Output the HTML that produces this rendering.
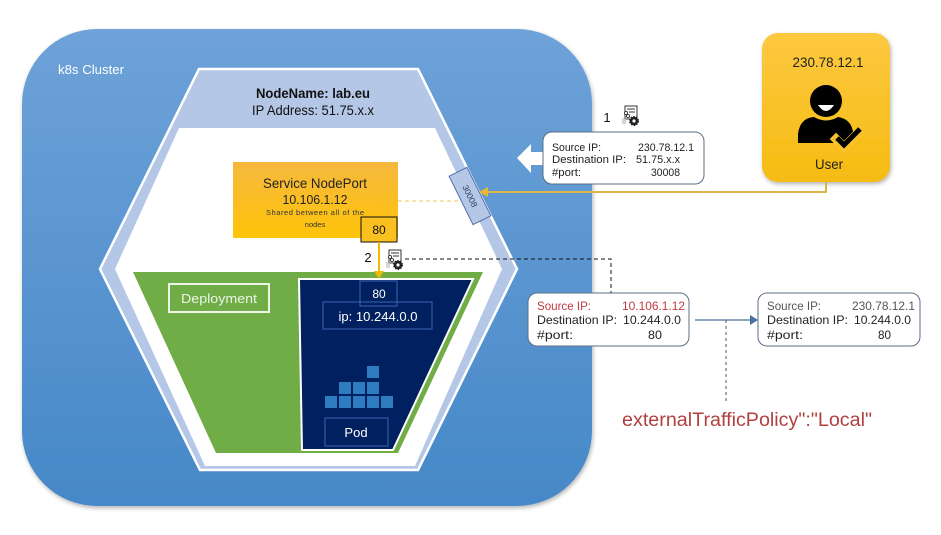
<!DOCTYPE html>
<html>
<head>
<meta charset="utf-8">
<style>
  html,body{margin:0;padding:0;background:#fff;}
  svg{display:block;}
  text{font-family:"Liberation Sans",sans-serif;}
</style>
</head>
<body>
<svg width="941" height="535" viewBox="0 0 941 535" xmlns="http://www.w3.org/2000/svg">
  <defs>
    <linearGradient id="clg" x1="0" y1="0" x2="0" y2="1">
      <stop offset="0" stop-color="#6ea2d8"/>
      <stop offset="1" stop-color="#4688c8"/>
    </linearGradient>
    <linearGradient id="svc" x1="0" y1="0" x2="0" y2="1">
      <stop offset="0" stop-color="#f5b83e"/>
      <stop offset="1" stop-color="#ffc40a"/>
    </linearGradient>
    <linearGradient id="usr" x1="0" y1="0" x2="0" y2="1">
      <stop offset="0" stop-color="#fcc840"/>
      <stop offset="1" stop-color="#f6bc12"/>
    </linearGradient>
    <filter id="sh" x="-10%" y="-10%" width="120%" height="120%">
      <feDropShadow dx="1" dy="2" stdDeviation="2" flood-color="#000" flood-opacity="0.3"/>
    </filter>
    <g id="icon">
      <rect x="3" y="0" width="12" height="13" fill="#fff" stroke="#333" stroke-width="1"/>
      <line x1="5" y1="3" x2="13" y2="3" stroke="#333" stroke-width="1"/>
      <line x1="7" y1="6" x2="13" y2="6" stroke="#333" stroke-width="1"/>
      <circle cx="4" cy="7" r="1.6" fill="#fff" stroke="#333" stroke-width="0.9"/>
      <circle cx="6" cy="10" r="1.6" fill="#fff" stroke="#333" stroke-width="0.9"/>
      <line x1="0" y1="13" x2="4" y2="13" stroke="#999" stroke-width="0.8"/>
      <line x1="0" y1="15" x2="4" y2="15" stroke="#999" stroke-width="0.8"/>
      <line x1="0" y1="17" x2="4" y2="17" stroke="#999" stroke-width="0.8"/>
      <circle cx="12" cy="15" r="4.2" fill="#222" stroke="#222" stroke-width="1.6" stroke-dasharray="1.5,1.2"/>
      <circle cx="12" cy="15" r="1.6" fill="#fff"/>
    </g>
  </defs>

  <!-- cluster -->
  <rect x="22" y="29" width="570" height="477" rx="75" ry="75" fill="url(#clg)" filter="url(#sh)"/>
  <text x="58" y="74" font-size="13" fill="#ffffff" textLength="66" lengthAdjust="spacingAndGlyphs">k8s Cluster</text>

  <!-- node hexagon -->
  <polygon points="199,69 418,69 517,269 418,470 200,470 100,269" fill="#b4c7e7" stroke="#ffffff" stroke-width="2.5"/>
  <polygon points="179,128 435,128 502,269 415,466 205,466 115,269" fill="#ffffff"/>
  <text x="313" y="98" font-size="14" font-weight="bold" fill="#111" text-anchor="middle" textLength="114" lengthAdjust="spacingAndGlyphs">NodeName: lab.eu</text>
  <text x="313" y="115" font-size="14" fill="#111" text-anchor="middle" textLength="122" lengthAdjust="spacingAndGlyphs">IP Address: 51.75.x.x</text>

  <!-- deployment -->
  <polygon points="133,272 483,272 398,453 216,453" fill="#70ad47"/>
  <rect x="169" y="284" width="100" height="28" fill="none" stroke="#eef4e8" stroke-width="2"/>
  <text x="219" y="303" font-size="13" fill="#eef4e8" text-anchor="middle" textLength="76" lengthAdjust="spacingAndGlyphs">Deployment</text>

  <!-- pod -->
  <polygon points="299,279 473,279 393,450 302,450" fill="#002060" stroke="#ffffff" stroke-width="2"/>
  <rect x="360" y="281" width="37" height="25" fill="none" stroke="#3d64b0" stroke-width="1"/>
  <text x="379" y="298" font-size="12" fill="#fff" text-anchor="middle">80</text>
  <rect x="323" y="302" width="109" height="27" fill="none" stroke="#3d64b0" stroke-width="1"/>
  <text x="378" y="321" font-size="13" fill="#fff" text-anchor="middle" textLength="79" lengthAdjust="spacingAndGlyphs">ip: 10.244.0.0</text>
  <g fill="#2e7bc0">
    <rect x="367" y="366" width="12" height="12"/>
    <rect x="339" y="382" width="12" height="12"/>
    <rect x="353" y="382" width="12" height="12"/>
    <rect x="367" y="382" width="12" height="12"/>
    <rect x="325" y="396" width="12" height="12"/>
    <rect x="339" y="396" width="12" height="12"/>
    <rect x="353" y="396" width="12" height="12"/>
    <rect x="367" y="396" width="12" height="12"/>
    <rect x="381" y="396" width="12" height="12"/>
  </g>
  <rect x="325" y="418" width="63" height="28" fill="none" stroke="#3d64b0" stroke-width="1"/>
  <text x="356" y="437" font-size="13" fill="#fff" text-anchor="middle">Pod</text>

  <!-- service nodeport -->
  <rect x="233" y="162" width="165" height="76" fill="url(#svc)"/>
  <text x="315" y="188" font-size="14" fill="#222" text-anchor="middle" textLength="104" lengthAdjust="spacingAndGlyphs">Service NodePort</text>
  <text x="315" y="204" font-size="13" fill="#222" text-anchor="middle" textLength="65" lengthAdjust="spacingAndGlyphs">10.106.1.12</text>
  <text x="315" y="215" font-size="7.5" fill="#333" text-anchor="middle" textLength="98" lengthAdjust="spacing">Shared  between  all  of  the</text>
  <text x="315" y="227" font-size="7.5" fill="#333" text-anchor="middle">nodes</text>
  <rect x="361" y="217" width="36" height="25" fill="#f9c020" stroke="#111" stroke-width="1"/>
  <text x="379" y="234" font-size="12" fill="#111" text-anchor="middle">80</text>

  <!-- yellow dashed to port tag -->
  <line x1="398" y1="201" x2="463" y2="201" stroke="#f0d378" stroke-width="1.2" stroke-dasharray="4,3"/>

  <!-- port tag 30008 -->
  <g transform="translate(470,196) rotate(63.7)">
    <rect x="-27" y="-10" width="54" height="20" fill="#b4c7e7" stroke="#4a66a8" stroke-width="0.9"/>
    <text x="0" y="3" font-size="8.5" fill="#2f3f66" text-anchor="middle">30008</text>
  </g>

  <!-- arrow 2 -->
  <line x1="379" y1="242" x2="379" y2="273" stroke="#f0b800" stroke-width="2"/>
  <polygon points="374,271 384,271 379,279" fill="#f0b800"/>
  <text x="368" y="262" font-size="13" fill="#111" text-anchor="middle">2</text>
  <use href="#icon" x="386" y="250"/>

  <!-- dashed connector to box 2 -->
  <polyline points="405,259 611,259 611,293" fill="none" stroke="#111" stroke-width="1" stroke-dasharray="4,3"/>

  <!-- user box -->
  <rect x="762" y="33" width="128" height="149" rx="16" ry="16" fill="url(#usr)" filter="url(#sh)"/>
  <text x="828" y="67" font-size="14" fill="#222" text-anchor="middle" textLength="71" lengthAdjust="spacingAndGlyphs">230.78.12.1</text>
  <circle cx="826" cy="101" r="16" fill="#000"/>
  <path d="M818,105 Q826,117 834,105 Z" fill="#fff"/>
  <path d="M798,143 L798,134 Q800,118 814,117 Q826,124 838,117 Q851,119 853,132 L853,143 Z" fill="#000"/>
  <polyline points="836,139 844,147 862,129" fill="none" stroke="#f8c22a" stroke-width="9" stroke-linecap="square"/>
  <polyline points="837,138 844,145 860,129" fill="none" stroke="#000" stroke-width="5"/>
  <text x="829" y="169" font-size="14" fill="#222" text-anchor="middle" textLength="28" lengthAdjust="spacingAndGlyphs">User</text>

  <!-- user connector -->
  <polyline points="826,182 826,192 487,192" fill="none" stroke="#dcb54a" stroke-width="2"/>
  <polygon points="488,187 479,192 488,197" fill="#e8b830"/>

  <!-- step 1 -->
  <text x="607" y="122" font-size="13" fill="#111" text-anchor="middle">1</text>
  <use href="#icon" x="622" y="106"/>
  <polygon points="517,158 531,144 531,152 546,152 546,165 531,165 531,173" fill="#ffffff"/>
  <rect x="543" y="132" width="161" height="52" rx="9" ry="9" fill="#fff" stroke="#5b6f86" stroke-width="1"/>
  <g font-size="11" fill="#222">
    <text x="552" y="151" textLength="49" lengthAdjust="spacingAndGlyphs">Source IP:</text>
    <text x="694" y="151" text-anchor="end" textLength="56" lengthAdjust="spacingAndGlyphs">230.78.12.1</text>
    <text x="552" y="163" textLength="74" lengthAdjust="spacingAndGlyphs">Destination IP:</text>
    <text x="636" y="163" textLength="44" lengthAdjust="spacingAndGlyphs">51.75.x.x</text>
    <text x="552" y="176" textLength="29" lengthAdjust="spacingAndGlyphs">#port:</text>
    <text x="680" y="176" text-anchor="end" textLength="29" lengthAdjust="spacingAndGlyphs">30008</text>
  </g>

  <!-- box 2 -->
  <rect x="528" y="293" width="161" height="53" rx="9" ry="9" fill="#fff" stroke="#5b6f86" stroke-width="1"/>
  <g font-size="12">
    <text x="537" y="310" fill="#c0393f" textLength="54" lengthAdjust="spacingAndGlyphs">Source IP:</text>
    <text x="685" y="310" fill="#c0393f" text-anchor="end" textLength="63" lengthAdjust="spacingAndGlyphs">10.106.1.12</text>
    <text x="537" y="324" fill="#222" textLength="80" lengthAdjust="spacingAndGlyphs">Destination IP:</text>
    <text x="623" y="324" fill="#222" textLength="58" lengthAdjust="spacingAndGlyphs">10.244.0.0</text>
    <text x="537" y="339" fill="#222" textLength="36" lengthAdjust="spacingAndGlyphs">#port:</text>
    <text x="648" y="339" fill="#222" textLength="14" lengthAdjust="spacingAndGlyphs">80</text>
  </g>

  <!-- arrow between boxes -->
  <line x1="695" y1="320" x2="751" y2="320" stroke="#4a6f9a" stroke-width="1.3"/>
  <polygon points="750,315 758,320 750,325" fill="#4a6f9a"/>
  <line x1="726" y1="320" x2="726" y2="401" stroke="#555" stroke-width="1" stroke-dasharray="3,3"/>

  <!-- box 3 -->
  <rect x="758" y="293" width="162" height="53" rx="9" ry="9" fill="#fff" stroke="#5b6f86" stroke-width="1"/>
  <g font-size="12">
    <text x="767" y="310" fill="#555" textLength="54" lengthAdjust="spacingAndGlyphs">Source IP:</text>
    <text x="915" y="310" fill="#555" text-anchor="end" textLength="63" lengthAdjust="spacingAndGlyphs">230.78.12.1</text>
    <text x="767" y="324" fill="#222" textLength="81" lengthAdjust="spacingAndGlyphs">Destination IP:</text>
    <text x="854" y="324" fill="#222" textLength="57" lengthAdjust="spacingAndGlyphs">10.244.0.0</text>
    <text x="767" y="339" fill="#222" textLength="36" lengthAdjust="spacingAndGlyphs">#port:</text>
    <text x="878" y="339" fill="#222" textLength="13" lengthAdjust="spacingAndGlyphs">80</text>
  </g>

  <!-- policy label -->
  <text x="622" y="426" font-size="19" fill="#b0403f" textLength="250" lengthAdjust="spacingAndGlyphs">externalTrafficPolicy":"Local"</text>
</svg>
</body>
</html>
